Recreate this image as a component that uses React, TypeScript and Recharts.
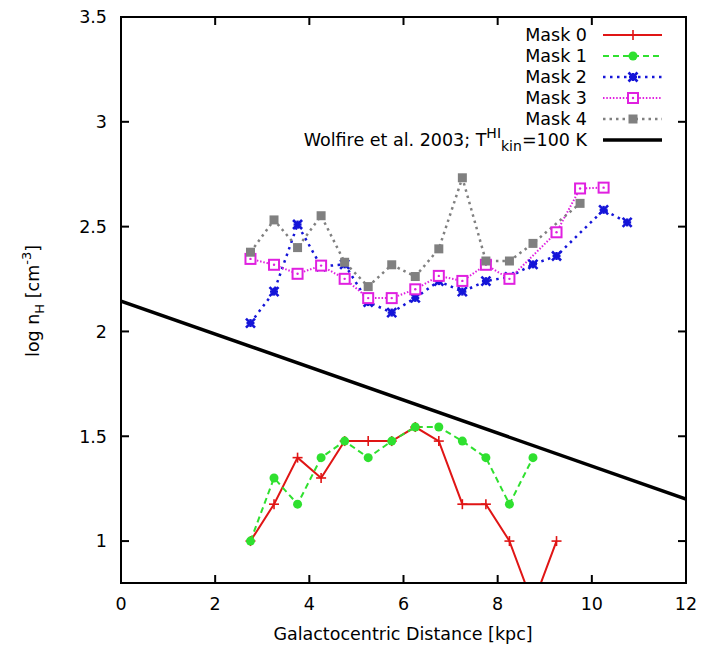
import React from 'react';
import { ComposedChart, Line, XAxis, YAxis, ReferenceArea } from 'recharts';

const distances = [2.75, 3.25, 3.75, 4.25, 4.75, 5.25, 5.75, 6.25, 6.75, 7.25, 7.75, 8.25, 8.75, 9.25, 9.75, 10.25, 10.75];
const mask0 = [1, 1.176, 1.398, 1.301, 1.477, 1.477, 1.477, 1.544, 1.477, 1.176, 1.176, 1, 0.699, 1, null, null, null];
const mask1 = [1, 1.301, 1.176, 1.398, 1.477, 1.398, 1.477, 1.544, 1.544, 1.477, 1.398, 1.176, 1.398, null, null, null, null];
const mask2 = [2.04, 2.19, 2.51, 2.31, 2.32, 2.14, 2.09, 2.16, 2.24, 2.19, 2.24, 2.26, 2.32, 2.36, null, 2.58, 2.52];
const mask3 = [2.346, 2.318, 2.275, 2.314, 2.251, 2.159, 2.159, 2.201, 2.265, 2.241, 2.318, 2.251, null, 2.473, 2.682, 2.686, null];
const mask4 = [2.378, 2.532, 2.4, 2.552, 2.33, 2.214, 2.318, 2.262, 2.394, 2.733, 2.336, 2.336, 2.42, null, 2.611, null, null];
const wolfireX = [0, 12];
const wolfireY = [2.145, 1.2];
const xTicks = [0, 2, 4, 6, 8, 10, 12];
const yTicks = [1, 1.5, 2, 2.5, 3, 3.5];
const seriesNames = ['Mask 0', 'Mask 1', 'Mask 2', 'Mask 3', 'Mask 4'];

const FONT = '"DejaVu Sans", Verdana, sans-serif';
const FS = 17.5;
const TICK_LEN = 8;

const tableData = distances.map((d, i) => ({
  d,
  m0: mask0[i],
  m1: mask1[i],
  m2: mask2[i],
  m3: mask3[i],
  m4: mask4[i],
}));
const wolfireData = wolfireX.map((d, i) => ({ d, w: wolfireY[i] }));

type Kind = 'plus' | 'circle' | 'star' | 'osquare' | 'fsquare';

function marker(kind: Kind, cx: number, cy: number, color: string, key?: any) {
  switch (kind) {
    case 'plus':
      return (
        <g key={key}>
          <line x1={cx - 5} y1={cy} x2={cx + 5} y2={cy} stroke={color} strokeWidth={1.6} />
          <line x1={cx} y1={cy - 5} x2={cx} y2={cy + 5} stroke={color} strokeWidth={1.6} />
        </g>
      );
    case 'circle':
      return <circle key={key} cx={cx} cy={cy} r={4.5} fill={color} />;
    case 'star':
      return (
        <g key={key}>
          <line x1={cx - 4.5} y1={cy - 4.5} x2={cx + 4.5} y2={cy + 4.5} stroke={color} strokeWidth={2.6} />
          <line x1={cx - 4.5} y1={cy + 4.5} x2={cx + 4.5} y2={cy - 4.5} stroke={color} strokeWidth={2.6} />
          <line x1={cx - 4} y1={cy} x2={cx + 4} y2={cy} stroke={color} strokeWidth={2.4} />
          <line x1={cx} y1={cy - 4} x2={cx} y2={cy + 4} stroke={color} strokeWidth={2.4} />
        </g>
      );
    case 'osquare':
      return (
        <g key={key}>
          <rect x={cx - 5} y={cy - 5} width={10} height={10} fill="#fff" stroke={color} strokeWidth={2} />
          <circle cx={cx} cy={cy} r={1.2} fill={color} />
        </g>
      );
    case 'fsquare':
    default:
      return <rect key={key} x={cx - 4.5} y={cy - 4.5} width={9} height={9} fill={color} />;
  }
}

const dotRenderer = (kind: Kind, color: string) => (p: any) => {
  const key = `${kind}-${p.index}`;
  if (p.cx == null || p.cy == null || p.value == null) return <g key={key} />;
  return marker(kind, p.cx, p.cy, color, key);
};

const styles = [
  { key: 'm0', color: '#e01515', dash: undefined as string | undefined, width: 2, kind: 'plus' as Kind },
  { key: 'm1', color: '#2fe02f', dash: '6 4', width: 2, kind: 'circle' as Kind },
  { key: 'm2', color: '#1515d8', dash: '2.5 4.5', width: 2.5, kind: 'star' as Kind },
  { key: 'm3', color: '#e020e0', dash: '1.5 1.8', width: 2, kind: 'osquare' as Kind },
  { key: 'm4', color: '#808080', dash: '2.5 4', width: 2.5, kind: 'fsquare' as Kind },
];

const fmt = (v: number) => String(v);

const BottomTick = (p: any) => (
  <g>
    <line x1={p.x} y1={p.y} x2={p.x} y2={p.y - TICK_LEN} stroke="#000" strokeWidth={2} />
    <text x={p.x} y={p.y + 27} textAnchor="middle" fontSize={FS} fontFamily={FONT} fill="#000">
      {fmt(p.payload.value)}
    </text>
  </g>
);

const LeftTick = (p: any) => (
  <g>
    <line x1={p.x} y1={p.y} x2={p.x + TICK_LEN} y2={p.y} stroke="#000" strokeWidth={2} />
    <text x={p.x - 14} y={p.y + 6.4} textAnchor="end" fontSize={FS} fontFamily={FONT} fill="#000">
      {fmt(p.payload.value)}
    </text>
  </g>
);

const TopTick = (p: any) => (
  <line x1={p.x} y1={p.y} x2={p.x} y2={p.y + TICK_LEN} stroke="#000" strokeWidth={2} />
);

const RightTick = (p: any) => (
  <line x1={p.x} y1={p.y} x2={p.x - TICK_LEN} y2={p.y} stroke="#000" strokeWidth={2} />
);

export default function App() {
  const rowY = [27, 48, 69, 90, 111, 132];
  const textEnd = 579;
  const sx1 = 595;
  const sx2 = 654;
  const mx = 625;
  return (
    <div style={{ position: 'relative', width: 700, height: 640 }}>
      <ComposedChart
        width={700}
        height={640}
        data={tableData}
        margin={{ top: 8, right: 21, bottom: 0, left: 0 }}
      >
        <XAxis
          dataKey="d"
          type="number"
          domain={[0, 12]}
          ticks={xTicks}
          interval={0}
          allowDataOverflow
          height={65}
          tickSize={0}
          tickMargin={0}
          tickLine={false}
          tick={BottomTick}
          axisLine={{ stroke: '#000', strokeWidth: 2 }}
        />
        <XAxis
          xAxisId="t"
          orientation="top"
          dataKey="d"
          type="number"
          domain={[0, 12]}
          ticks={xTicks}
          interval={0}
          allowDataOverflow
          height={1}
          tickSize={0}
          tickMargin={0}
          tickLine={false}
          tick={TopTick}
          axisLine={{ stroke: '#000', strokeWidth: 2 }}
        />
        <YAxis
          type="number"
          domain={[0.8, 3.5]}
          ticks={yTicks}
          interval={0}
          allowDataOverflow
          width={113}
          tickSize={0}
          tickMargin={0}
          tickLine={false}
          tick={LeftTick}
          axisLine={{ stroke: '#000', strokeWidth: 2 }}
        />
        <YAxis
          yAxisId="r"
          orientation="right"
          type="number"
          domain={[0.8, 3.5]}
          ticks={yTicks}
          interval={0}
          allowDataOverflow
          width={1}
          tickSize={0}
          tickMargin={0}
          tickLine={false}
          tick={RightTick}
          axisLine={{ stroke: '#000', strokeWidth: 2 }}
        />
        <ReferenceArea
          x1={0}
          x2={12}
          y1={0.8}
          y2={3.5}
          fill="none"
          fillOpacity={0}
          stroke="#000"
          strokeWidth={2}
          strokeOpacity={1}
          ifOverflow="visible"
        />
        {styles.map((s, i) => (
          <Line
            key={s.key}
            dataKey={s.key}
            name={seriesNames[i]}
            type="linear"
            stroke={s.color}
            strokeWidth={s.width}
            strokeDasharray={s.dash}
            dot={dotRenderer(s.kind, s.color)}
            activeDot={false}
            connectNulls
            isAnimationActive={false}
          />
        ))}
        <Line
          data={wolfireData}
          xAxisId="t"
          yAxisId="r"
          dataKey="w"
          name="Wolfire et al. 2003"
          type="linear"
          stroke="#000"
          strokeWidth={3.5}
          dot={false}
          activeDot={false}
          isAnimationActive={false}
        />
      </ComposedChart>
      <svg
        width={700}
        height={640}
        style={{ position: 'absolute', left: 0, top: 0, pointerEvents: 'none' }}
        fontFamily={FONT}
      >
        {styles.map((s, i) => (
          <g key={s.key}>
            <text x={textEnd} y={rowY[i] + 6.4} textAnchor="end" fontSize={FS} fill="#000">
              {seriesNames[i]}
            </text>
            <line
              x1={sx1}
              y1={rowY[i]}
              x2={sx2}
              y2={rowY[i]}
              stroke={s.color}
              strokeWidth={s.width}
              strokeDasharray={s.dash}
            />
            {marker(s.kind, mx, rowY[i], s.color)}
          </g>
        ))}
        <text x={textEnd} y={rowY[5] + 6.4} textAnchor="end" fontSize={FS} fill="#000">
          Wolfire et al. 2003; T
          <tspan dy={-8} fontSize={14}>HI</tspan>
          <tspan dy={13} fontSize={14}>kin</tspan>
          <tspan dy={-5} fontSize={FS}>=100 K</tspan>
        </text>
        <line x1={sx1} y1={rowY[5]} x2={sx2} y2={rowY[5]} stroke="#000" strokeWidth={3.5} />
        <text x={395} y={632} textAnchor="middle" fontSize={FS} fill="#000">
          Galactocentric Distance [kpc]
        </text>
        <text
          transform="translate(31, 293) rotate(-90)"
          x={0}
          y={0}
          textAnchor="middle"
          fontSize={FS}
          fill="#000"
        >
          log n
          <tspan dy={5} fontSize={13}>H</tspan>
          <tspan dy={-5} fontSize={FS}> [cm</tspan>
          <tspan dy={-8} fontSize={13}>-3</tspan>
          <tspan dy={8} fontSize={FS}>]</tspan>
        </text>
      </svg>
    </div>
  );
}
